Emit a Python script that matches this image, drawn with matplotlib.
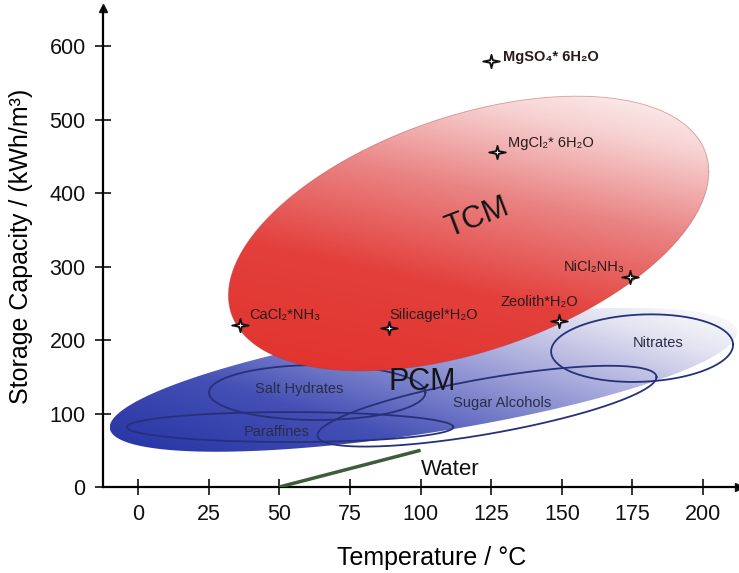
import numpy as np
import matplotlib
matplotlib.use("Agg")
import matplotlib.pyplot as plt
from matplotlib.colors import LinearSegmentedColormap
from matplotlib.patches import Polygon
from matplotlib.path import Path

plt.rcParams["font.family"] = ["Liberation Sans", "DejaVu Sans"]

# big regions: centre temp, centre capacity, half range temp, half range capacity, tilt (correlation)
tcm_region = [117.0, 345.0, 85.0, 187.0, 0.45]
pcm_region = [101.0, 146.0, 111.0, 98.0, 0.66]

# PCM sub-groups
sub_names = ["Salt Hydrates", "Paraffines", "Sugar Alcohols", "Nitrates"]
sub_temp = [63.4, 53.8, 123.5, 178.4]
sub_cap = [128.6, 81.6, 110.0, 189.0]
sub_half_temp = [38.3, 57.8, 60.0, 32.2]
sub_half_cap = [37.4, 20.4, 55.0, 46.0]
sub_tilt = [0.0, 0.0, 0.72, 0.1]
sub_label_temp = [57, 49, 129, 184]
sub_label_cap = [133, 75, 114, 196]

# TCM materials
materials = ["MgSO₄* 6H₂O", "MgCl₂* 6H₂O", "CaCl₂*NH₃", "Silicagel*H₂O", "Zeolith*H₂O", "NiCl₂NH₃"]
mat_temp = [125, 127, 36, 89, 149, 174]
mat_cap = [580, 456, 220, 216, 226, 286]

# water line
water_temp = [50, 100]
water_cap = [0, 50]

x_ticks = [0, 25, 50, 75, 100, 125, 150, 175, 200]
y_ticks = [0, 100, 200, 300, 400, 500, 600]


def region_outline(cx, cy, wx, wy, rho, n=400):
    t = np.linspace(0, 2 * np.pi, n)
    phi = np.arccos(rho)
    return cx + wx * np.cos(t), cy + wy * np.cos(t - phi)


def gradient_fill(ax, xs, ys, cmap, dx, dy, zorder):
    poly = Polygon(np.column_stack([xs, ys]), closed=True, facecolor="none",
                   edgecolor="none", transform=ax.transData)
    ax.add_patch(poly)
    gx = np.linspace(xs.min(), xs.max(), 300)
    gy = np.linspace(ys.min(), ys.max(), 300)
    GX, GY = np.meshgrid(gx, gy)
    xn = (GX - gx.mean()) / (np.ptp(gx) / 2)
    yn = (GY - gy.mean()) / (np.ptp(gy) / 2)
    t = dx * xn + dy * yn
    t = (t - t.min()) / (t.max() - t.min())
    im = ax.imshow(t, extent=[gx[0], gx[-1], gy[0], gy[-1]], origin="lower",
                   cmap=cmap, aspect="auto", zorder=zorder, interpolation="bilinear")
    im.set_clip_path(poly)


fig = plt.figure(figsize=(7.39, 5.73), dpi=100)
ax = fig.add_axes([103 / 739, 86 / 573, 636 / 739, 479 / 573])

red_cmap = LinearSegmentedColormap.from_list(
    "tcm", [(0, "#e2322d"), (0.35, "#e3403c"), (0.62, "#ea8484"), (0.85, "#f7d2d2"), (1, "#fdf3f3")])
blue_cmap = LinearSegmentedColormap.from_list(
    "pcm", [(0, "#2634a4"), (0.3, "#4450b5"), (0.6, "#9ea1d8"), (0.85, "#e4e4f2"), (1, "#ffffff")])

# PCM region
px, py = region_outline(*pcm_region)
gradient_fill(ax, px, py, blue_cmap, 0.75, 0.55, 1)

for i in range(len(sub_names)):
    sx, sy = region_outline(sub_temp[i], sub_cap[i], sub_half_temp[i], sub_half_cap[i], sub_tilt[i])
    ax.plot(sx, sy, color="#27317a", lw=1.3, zorder=2)
    ax.text(sub_label_temp[i], sub_label_cap[i], sub_names[i], fontsize=10.5,
            color="#2a2d45", ha="center", va="center", zorder=6)

# TCM region
tx, ty = region_outline(*tcm_region)
gradient_fill(ax, tx, ty, red_cmap, 0.35, 0.9, 3)
ax.plot(tx, ty, color="#b03a3a", lw=0.6, alpha=0.45, zorder=3)

ax.text(120, 367, "TCM", fontsize=22, rotation=21, ha="center", va="center",
        color="#151515", zorder=6)
ax.text(100.5, 143, "PCM", fontsize=22, ha="center", va="center",
        color="#151515", zorder=6)

# water
ax.plot(water_temp, water_cap, color="#3d5c3a", lw=2.5, zorder=4, solid_capstyle="butt")
ax.text(110.4, 24, "Water", fontsize=16, ha="center", va="center", color="#111111")

# star markers
star = Path([(1, 0), (0.16, 0.16), (0, 0.8), (-0.16, 0.16), (-1, 0),
             (-0.16, -0.16), (0, -0.8), (0.16, -0.16), (1, 0)], closed=True)
ax.plot(mat_temp, mat_cap, linestyle="none", marker=star, markersize=12,
        markerfacecolor="white", markeredgecolor="#111111", markeredgewidth=1.3, zorder=5)

label_offsets = [(12, 4), (11, 9), (10, 10), (0, 13), (19, 19), (-5, 10)]
label_ha = ["left", "left", "left", "left", "right", "right"]
for i, name in enumerate(materials):
    ax.annotate(name, (mat_temp[i], mat_cap[i]), xytext=label_offsets[i],
                textcoords="offset pixels", ha=label_ha[i], va="center",
                fontsize=10.5, color="#2a1a1a",
                fontweight="bold" if i == 0 else "normal", zorder=6)

# axes styling
ax.set_xlim(-12.4, 212.7)
ax.set_ylim(0, 652)
ax.set_xticks(x_ticks)
ax.set_yticks(y_ticks)
for s in ["top", "right"]:
    ax.spines[s].set_visible(False)
for s in ["left", "bottom"]:
    ax.spines[s].set_linewidth(1.6)
ax.tick_params(direction="inout", length=11, width=1.2, labelsize=15.5,
               pad=7, colors="#111111")
ax.plot(1, 0, ">", color="#111111", markersize=6, transform=ax.transAxes, clip_on=False)
ax.plot(0, 1, "^", color="#111111", markersize=6, transform=ax.transAxes, clip_on=False)

fig.text(432 / 739, 1 - 565 / 573, "Temperature / °C", fontsize=18, ha="center", va="baseline")
fig.text(21 / 739, 1 - 246 / 573, "Storage Capacity / (kWh/m³)", fontsize=18,
         rotation=90, ha="center", va="center")

fig.savefig("out.png", dpi=100)
